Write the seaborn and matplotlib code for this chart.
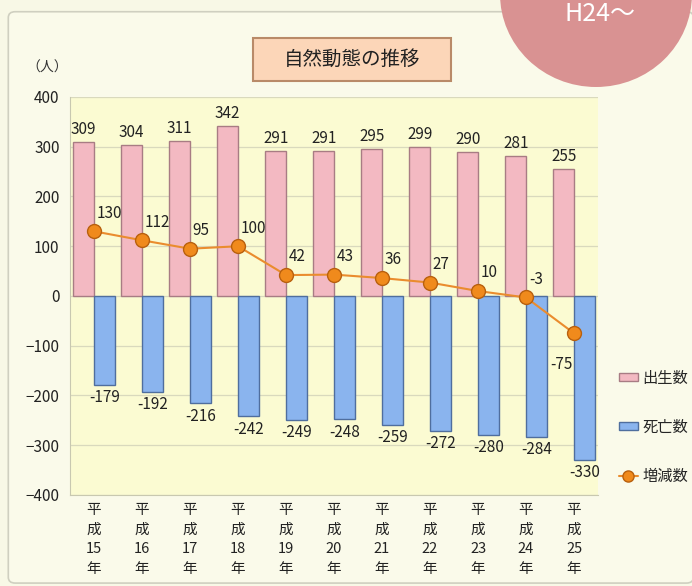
import numpy as np
import pandas as pd
import matplotlib
matplotlib.use("Agg")
import matplotlib.pyplot as plt
from matplotlib.patches import Ellipse, FancyBboxPatch, Patch
from matplotlib.lines import Line2D
import seaborn as sns

# data
years = ["平\n成\n15\n年", "平\n成\n16\n年", "平\n成\n17\n年", "平\n成\n18\n年",
         "平\n成\n19\n年", "平\n成\n20\n年", "平\n成\n21\n年", "平\n成\n22\n年",
         "平\n成\n23\n年", "平\n成\n24\n年", "平\n成\n25\n年"]
births = [309, 304, 311, 342, 291, 291, 295, 299, 290, 281, 255]
deaths = [-179, -192, -216, -242, -249, -248, -259, -272, -280, -284, -330]
change = [130, 112, 95, 100, 42, 43, 36, 27, 10, -3, -75]
series_names = ["出生数", "死亡数", "増減数"]
y_ticks = [400, 300, 200, 100, 0, -100, -200, -300, -400]

pink = "#f3b9c2"
pink_edge = "#a87c84"
blue = "#8ab4ee"
blue_edge = "#4f6e9e"
orange = "#ea8c2e"

sns.set_style("white")
plt.rcParams["font.family"] = ["Noto Sans CJK JP", "DejaVu Sans"]

df = pd.DataFrame({
    "year": years * 2,
    "value": births + deaths,
    "kind": [series_names[0]] * len(years) + [series_names[1]] * len(years),
})

fig = plt.figure(figsize=(6.92, 5.86), dpi=100)
fig.patch.set_facecolor("#f8f8e6")

# outer frame
frame = FancyBboxPatch((0.012, 0.005), 0.99, 0.975, boxstyle="round,pad=0,rounding_size=0.01",
                       transform=fig.transFigure, facecolor="#fafaea", edgecolor="#cfcfc0",
                       linewidth=1.2, zorder=-10)
fig.patches.append(frame)

ax = fig.add_axes([0.1012, 0.1553, 0.7630, 0.6792])
ax.set_zorder(1)
ax.set_facecolor("#fbfbd2")

sns.barplot(data=df, x="year", y="value", hue="kind", saturation=1,
            palette=[pink, blue], width=0.86, ax=ax, legend=False,
            edgecolor="#777777", linewidth=1.0, zorder=2)
for patch in ax.containers[0]:
    patch.set_edgecolor(pink_edge)
for patch in ax.containers[1]:
    patch.set_edgecolor(blue_edge)

sns.lineplot(x=np.arange(len(years)), y=change, ax=ax, color=orange, linewidth=1.5,
             marker="o", markersize=10, markerfacecolor="#f08a1c",
             markeredgecolor="#b8600e", markeredgewidth=1.0, zorder=5)

ax.bar_label(ax.containers[0], padding=3, fontsize=11, color="#222222")
ax.bar_label(ax.containers[1], padding=3, fontsize=11, color="#222222")

for i, v in enumerate(change):
    if i == len(change) - 1:
        ax.annotate(str(v), (i, v), xytext=(-1, -16), textcoords="offset points",
                    ha="right", va="top", fontsize=11, color="#222222")
    else:
        ax.annotate(str(v), (i, v), xytext=(2, 7), textcoords="offset points",
                    ha="left", va="bottom", fontsize=11, color="#222222")

ax.set_xlim(-0.5, len(years) - 0.5)
ax.set_ylim(-400, 400)
ax.set_yticks(y_ticks)
ax.yaxis.grid(True, color="#d9d9bd", linewidth=0.9)
ax.set_axisbelow(True)
ax.set_xlabel("")
ax.set_ylabel("")
ax.tick_params(axis="y", labelsize=11, length=4, color="#a0a090", labelcolor="#222222")
ax.tick_params(axis="x", labelsize=10.5, length=0, pad=6, labelcolor="#222222")
for lbl in ax.get_xticklabels():
    lbl.set_linespacing(1.5)
for side in ["top", "right"]:
    ax.spines[side].set_visible(False)
for side in ["left", "bottom"]:
    ax.spines[side].set_color("#c8c8b0")

handles = [
    Patch(facecolor=pink, edgecolor=pink_edge),
    Patch(facecolor=blue, edgecolor=blue_edge),
    Line2D([], [], color=orange, marker="o", markersize=8,
           markerfacecolor="#f08a1c", markeredgecolor="#b8600e"),
]
fig.legend(handles, series_names, loc="center left", bbox_to_anchor=(0.875, 0.271),
           frameon=False, fontsize=11, labelspacing=2.1, handlelength=1.2,
           handleheight=0.4, handletextpad=0.3)

# title box
title_box = FancyBboxPatch((0.366, 0.862), 0.286, 0.074, boxstyle="square,pad=0",
                           transform=fig.transFigure, facecolor="#fcd6b8",
                           edgecolor="#b98a68", linewidth=1.5, zorder=3)
fig.patches.append(title_box)
fig.text(0.509, 0.899, "自然動態の推移", ha="center", va="center", fontsize=14,
         color="#222222", zorder=4)

fig.text(0.068, 0.884, "（人）", ha="center", va="center", fontsize=10, color="#333333")

# pink badge in the top right corner
badge = Ellipse((596 / 692, 1 + 6 / 586), 2 * 96 / 692, 2 * 93 / 586,
                transform=fig.transFigure, facecolor="#d99292", edgecolor="none", zorder=6)
fig.patches.append(badge)
fig.text(600 / 692, 1 - 14 / 586, "H24～", ha="center", va="center", fontsize=18,
         color="white", zorder=7)

fig.savefig("out.png", dpi=100, facecolor=fig.get_facecolor())
